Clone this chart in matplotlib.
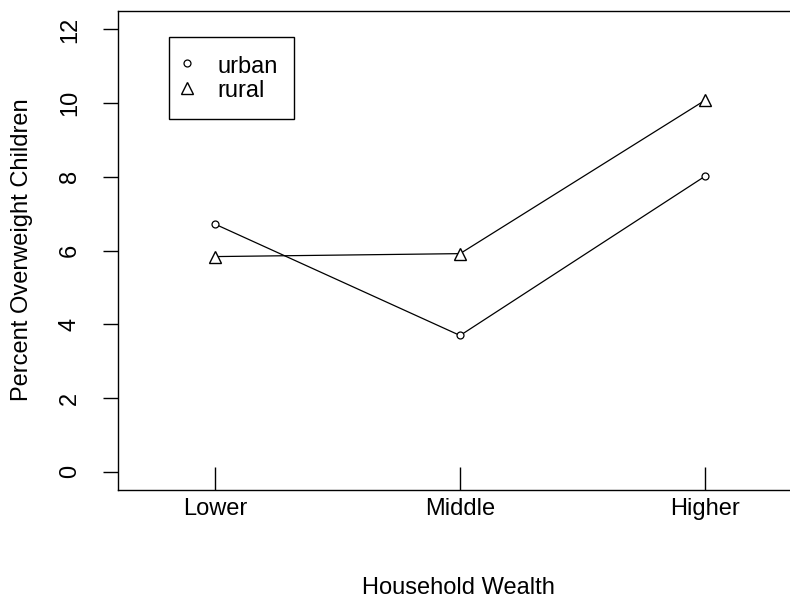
import matplotlib
matplotlib.use("Agg")
import matplotlib.pyplot as plt
from matplotlib.lines import Line2D

plt.rcParams['font.family'] = ['Liberation Sans', 'DejaVu Sans']

# percent of overweight children by household wealth
wealth = ["Lower", "Middle", "Higher"]
urban = [6.72, 3.70, 8.02]
rural = [5.84, 5.92, 10.08]
yticks = [0, 2, 4, 6, 8, 10, 12]

FS = 17
fig = plt.figure(figsize=(7.9, 6.06), dpi=100)
ax = fig.add_axes([118 / 790, 1 - 490 / 606, 690 / 790, (490 - 11) / 606])

xs = list(range(1, len(wealth) + 1))
ax.plot(xs, urban, color="black", lw=0.9, marker="o", ms=5,
        mfc="white", mec="black", mew=0.9)
ax.plot(xs, rural, color="black", lw=0.9, marker="^", ms=9,
        mfc="white", mec="black", mew=1.0)

ax.set_xlim(0.604, 3.42)
ax.set_ylim(-0.49, 12.5)

ax.set_xticks(xs)
ax.set_xticklabels(wealth, fontsize=FS)
ax.tick_params(axis="x", direction="in", length=16.5, width=1.0, pad=6)

ax.set_yticks(yticks)
ax.set_yticklabels([str(v) for v in yticks], fontsize=FS, rotation=90, va="center")
ax.tick_params(axis="y", direction="out", length=10.8, width=1.0, pad=16)

for side in ax.spines.values():
    side.set_linewidth(1.0)
    side.set_color("black")
ax.spines["right"].set_visible(False)

fig.text(458 / 790, 1 - 588 / 606, "Household Wealth", fontsize=FS,
         ha="center", va="center")
fig.text(22 / 790, 1 - 250 / 606, "Percent Overweight Children", fontsize=FS,
         ha="center", va="center", rotation=90)

handles = [
    Line2D([], [], ls="none", marker="o", ms=5, mfc="white", mec="black", mew=0.9),
    Line2D([], [], ls="none", marker="^", ms=9, mfc="white", mec="black", mew=1.0),
]
leg = ax.legend(handles, ["urban", "rural"], loc="upper left",
                bbox_to_anchor=(169 / 790, 1 - 37 / 606),
                bbox_transform=fig.transFigure, fontsize=FS, frameon=True,
                fancybox=False, framealpha=1, edgecolor="black",
                borderpad=0.7, labelspacing=0.0, handlelength=0.1,
                handleheight=1.1, handletextpad=1.25, borderaxespad=0)
leg.get_frame().set_linewidth(1.0)

fig.savefig("out.png", dpi=100)
